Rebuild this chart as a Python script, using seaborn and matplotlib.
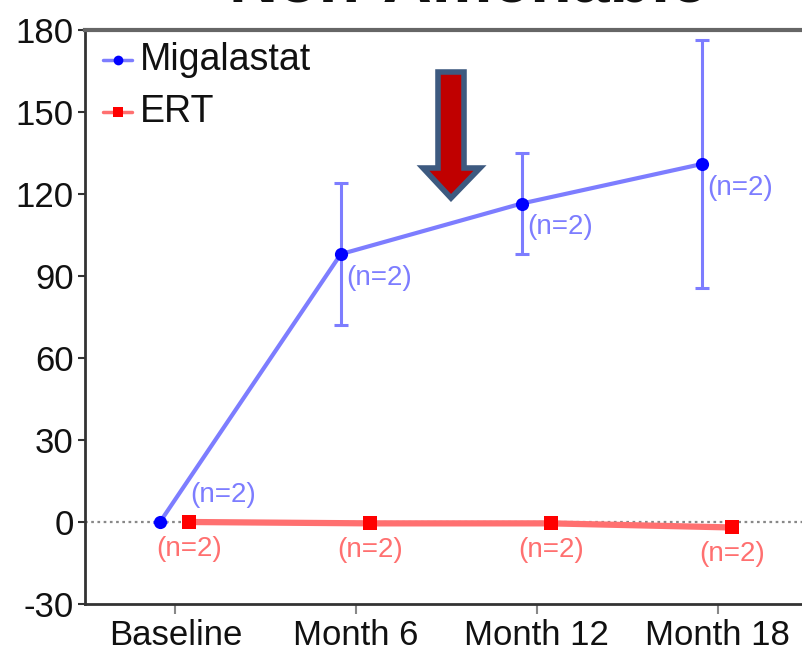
import matplotlib
matplotlib.use("Agg")
import matplotlib.pyplot as plt
import seaborn as sns
import numpy as np
import pandas as pd
from matplotlib.patches import Polygon

sns.set_theme(style="white")
plt.rcParams['font.family'] = ['Liberation Sans', 'DejaVu Sans']

visits = ["Baseline", "Month 6", "Month 12", "Month 18"]
miga_mean = [0, 98, 116.5, 131]
miga_err = [0, 26, 18.5, 45.5]
ert_mean = [0, -0.5, -0.5, -2]
n_labels = ["(n=2)", "(n=2)", "(n=2)", "(n=2)"]
yticks = [-30, 0, 30, 60, 90, 120, 150, 180]

BLUE = "#0000ff"
BLUE_LINE = "#7d7dff"
RED = "#ff0000"
RED_LINE = "#ff7070"
W, H = 803, 653

fig = plt.figure(figsize=(W / 100, H / 100), dpi=100)
ax = fig.add_axes([85 / W, 49 / H, 723 / W, 574 / H])

pos = np.arange(len(visits))
dm, de = -0.085, 0.078
df = pd.DataFrame({
    "x": np.concatenate([pos + dm, pos + de]),
    "y": miga_mean + ert_mean,
    "grp": ["Migalastat"] * 4 + ["ERT"] * 4,
})

ax.axhline(0, color="#888888", lw=1.6, ls=(0, (1.2, 1.6)), zorder=1)

ax.errorbar(pos + dm, miga_mean, yerr=miga_err, fmt="none", ecolor=BLUE_LINE,
            elinewidth=2.2, capsize=5, capthick=2.2, zorder=2)
sns.lineplot(data=df[df.grp == "Migalastat"], x="x", y="y", ax=ax, color=BLUE_LINE,
             lw=3, zorder=3, legend=False)
sns.lineplot(data=df[df.grp == "ERT"], x="x", y="y", ax=ax, color=RED_LINE,
             lw=4.5, zorder=3, legend=False)
ax.scatter(pos + dm, miga_mean, marker="o", s=90, color=BLUE, zorder=4, linewidths=0)
ax.scatter(pos + de, ert_mean, marker="s", s=90, color=RED, zorder=4, linewidths=0)

# sample-size annotations
for i, (m, lab) in enumerate(zip(miga_mean, n_labels)):
    if i == 0:
        ax.text(i + dm + 0.17, m + 5, lab, color=BLUE_LINE, fontsize=20,
                ha="left", va="bottom")
    else:
        ax.text(i + dm + 0.03, m - 4, lab, color=BLUE_LINE, fontsize=20,
                ha="left", va="top")
for i, (m, lab) in enumerate(zip(ert_mean, n_labels)):
    ax.text(i + de, m - 5, lab, color=RED_LINE, fontsize=20, ha="center", va="top")

# legend
for yy, mk, c, lc, lab in [(0.948, "o", BLUE, BLUE_LINE, "Migalastat"),
                           (0.857, "s", RED, RED_LINE, "ERT")]:
    ax.plot([0.025, 0.065], [yy, yy], transform=ax.transAxes, color=lc, lw=2.5)
    ax.plot([0.045], [yy], transform=ax.transAxes, marker=mk, color=c, ms=7, mew=0)
    ax.text(0.076, yy, lab, transform=ax.transAxes, fontsize=27,
            va="center", ha="left", color="#111111")

# downward arrow, outlined
pts_px = [(438, 72), (464, 72), (464, 168), (480, 168), (451, 198),
          (423, 168), (438, 168)]
pts = [(x / W, 1 - y / H) for x, y in pts_px]
fig.patches.append(Polygon(pts, closed=True, transform=fig.transFigure,
                           facecolor="#c00000", edgecolor="#3d5a80", lw=4,
                           joinstyle="miter", zorder=10))

ax.set_xlim(-0.5, 3.5)
ax.set_ylim(-30, 180)
ax.set_yticks(yticks)
ax.set_yticklabels([str(v) for v in yticks])
ax.set_xticks(pos)
ax.set_xticklabels(visits)
ax.set_xlabel("")
ax.set_ylabel("")
ax.tick_params(axis="y", labelsize=25, length=5, width=1.5, color="#333333",
               left=True, pad=3, labelcolor="#111111")
ax.tick_params(axis="x", labelsize=25, length=7, width=1.5, color="#888888",
               bottom=True, pad=4, labelcolor="#111111")
for s in ["left", "bottom"]:
    ax.spines[s].set_color("#333333")
    ax.spines[s].set_linewidth(2)
ax.spines["top"].set_color("#666666")
ax.spines["top"].set_linewidth(3)
ax.spines["right"].set_visible(False)

fig.text(0.584, 1 - 2 / H, "Non-Amenable", fontsize=49, fontweight="bold",
         ha="center", va="baseline", color="#111111")

fig.savefig("out.png", dpi=100)
